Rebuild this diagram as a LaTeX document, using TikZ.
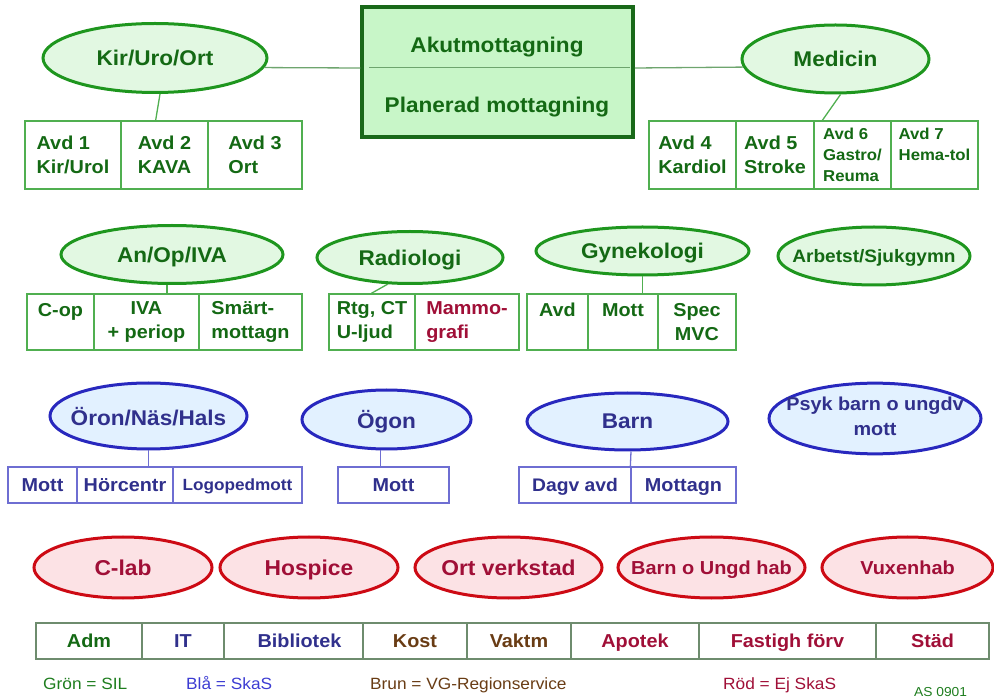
\documentclass[tikz,border=0pt]{standalone}
\usepackage{fontspec}
\setmainfont{Liberation Sans}[FakeStretch=1.06]
\usetikzlibrary{shapes.geometric}
\definecolor{gtxt}{RGB}{20,105,20}
\definecolor{gline}{RGB}{30,150,30}
\definecolor{gfill}{RGB}{226,248,226}
\definecolor{gbox}{RGB}{80,175,80}
\definecolor{akfill}{RGB}{200,246,200}
\definecolor{akborder}{RGB}{25,105,25}
\definecolor{akline}{RGB}{110,165,110}
\definecolor{btxt}{RGB}{48,48,140}
\definecolor{bline}{RGB}{40,40,190}
\definecolor{bfill}{RGB}{226,241,255}
\definecolor{bbox}{RGB}{110,110,210}
\definecolor{rtxt}{RGB}{160,15,55}
\definecolor{rline}{RGB}{205,10,20}
\definecolor{rfill}{RGB}{252,226,229}
\definecolor{brtxt}{RGB}{105,60,20}
\definecolor{barline}{RGB}{110,140,110}
\definecolor{legblue}{RGB}{60,60,210}
\definecolor{leggreen}{RGB}{30,125,30}
\newcommand{\inell}[1]{\makebox[0pt]{\raisebox{0pt}[\height][0pt]{#1}}}
\newcommand{\fs}[2]{\fontsize{#1}{#2}\selectfont}
\begin{document}
\begin{tikzpicture}
        [x=1pt, y=-1pt,
        every node/.style={inner sep=0pt},
        gell/.style={ellipse, draw=gline, line width=3pt, fill=gfill, text=gtxt, font=\bfseries\fs{21.3}{25}},
        bell/.style={ellipse, draw=bline, line width=3pt, fill=bfill, text=btxt, font=\bfseries\fs{21.3}{25}},
        rell/.style={ellipse, draw=rline, line width=3pt, fill=rfill, text=rtxt, font=\bfseries\fs{21.5}{25}},
        gcell/.style={rectangle, draw=gbox, line width=1.3pt, text=gtxt, align=left, font=\bfseries\fs{18.7}{24}},
        bcell/.style={rectangle, draw=bbox, line width=1.3pt, text=btxt, font=\bfseries\fs{18.7}{22}, minimum height=36, text depth=0pt},
        barcell/.style={rectangle, draw=barline, line width=1.3pt, font=\bfseries\fs{18.7}{22}, minimum height=36, text depth=0pt},
        gconn/.style={draw=gbox, line width=1.3pt},
        bconn/.style={draw=bbox, line width=1.3pt},
        legend/.style={anchor=base west, font=\fs{16.3}{20}},
        ]
        \useasboundingbox (0,0) rectangle (994,700);

        % centre box
        \node[rectangle, draw=akborder, line width=3.5pt, fill=akfill, minimum width=271, minimum height=130] (akut) at (497.5,72) {};
        \draw[draw=akline, line width=1pt] ([xshift=9,yshift=4]akut.west) -- ([xshift=-5,yshift=4]akut.east);
        \node[anchor=base, text=gtxt, font=\bfseries\fs{21.3}{25}] (akm) at (497,53) {Akutmottagning};
        \node[anchor=base, text=gtxt, font=\bfseries\fs{21.3}{25}] (plm) at (497,113) {Planerad mottagning};

        % top row
        \node[gell, minimum width=224, minimum height=69] (kir) at (155,58) {\inell{Kir/Uro/Ort}};
        \node[gell, minimum width=187, minimum height=68] (med) at (835.5,59) {\inell{Medicin}};
        \draw[draw=akline, line width=1.3pt] (kir.-5) -- ([yshift=4]akut.west);
        \draw[draw=akline, line width=1.3pt] ([yshift=4]akut.east) -- (med.185);

        \begin{scope}[every node/.append style={minimum height=68}]
        \node[gcell, minimum width=96] (avd1) at (73,155) {Avd 1\\Kir/Urol};
        \node[gcell, minimum width=87] (avd2) at (164.5,155) {Avd 2\\KAVA};
        \node[gcell, minimum width=94] (avd3) at (255,155) {Avd 3\\Ort};
        \node[gcell, minimum width=87] (avd4) at (692.5,155) {Avd 4\\Kardiol};
        \node[gcell, minimum width=78] (avd5) at (775,155) {Avd 5\\Stroke};
        \node[gcell, minimum width=77, font=\bfseries\fs{15.8}{21}] (avd6) at (852.5,155) {Avd 6\\Gastro/\\Reuma};
        \node[gcell, minimum width=87, font=\bfseries\fs{15.8}{21}] (avd7) at (934.5,155) {Avd 7\\Hema-tol\\\mbox{}};
        \end{scope}
        \draw[gconn] ([xshift=5]kir.south) -- ([xshift=34]avd1.north east);
        \draw[gconn] ([xshift=5]med.south) -- ([xshift=9]avd6.north west);

        % second row
        \node[gell, minimum width=222, minimum height=58] (anop) at (172,254.5) {\inell{An/Op/IVA}};
        \node[gell, minimum width=186, minimum height=52] (radio) at (410,257.5) {\inell{Radiologi}};
        \node[gell, minimum width=213, minimum height=48] (gyn) at (642.5,251) {\inell{Gynekologi}};
        \node[gell, minimum width=192, minimum height=58, font=\bfseries\fs{18}{22}] (arb) at (874,256) {\inell{Arbetst/Sjukgymn}};

        \begin{scope}[every node/.append style={minimum height=56, font=\bfseries\fs{18.7}{29}}]
        \node[gcell, minimum width=67] (cop) at (60.5,322) {C-op\\\mbox{}};
        \node[gcell, minimum width=105, align=center] (iva) at (146.5,322) {IVA\\+ periop};
        \node[gcell, minimum width=103] (smart) at (250.5,322) {Smärt-\\mottagn};
        \node[gcell, minimum width=86] (rtg) at (372,322) {Rtg, CT\\U-ljud};
        \node[gcell, minimum width=104, text=rtxt] (mammo) at (467,322) {Mammo-\\grafi};
        \node[gcell, minimum width=61] (gavd) at (557.5,322) {Avd\\\mbox{}};
        \node[gcell, minimum width=70] (gmott) at (623,322) {Mott\\\mbox{}};
        \node[gcell, minimum width=78, align=center] (spec) at (697,322) {Spec\\MVC};
        \end{scope}
        \draw[gconn] ([xshift=-5]anop.south) -- ([xshift=-5]anop.south |- iva.north);
        \draw[gconn] (radio.230) -- ([xshift=43]rtg.north west);
        \draw[gconn] (gyn.south) -- (gyn.south |- gmott.north);

        % third row
        \node[bell, minimum width=197, minimum height=66] (oron) at (148.5,416) {\inell{Öron/Näs/Hals}};
        \node[bell, minimum width=169, minimum height=59] (ogon) at (386.5,419.5) {\inell{Ögon}};
        \node[bell, minimum width=201, minimum height=57] (barn) at (627.5,421.5) {\inell{Barn}};
        \node[bell, minimum width=212, minimum height=63, font=\bfseries\fs{18.7}{25}] (psyk) at (875,418.5)
          {\makebox[0pt]{\begin{tabular}{@{}c@{}}Psyk barn o ungdv\\mott\end{tabular}}};

        \node[bcell, minimum width=69] (omott) at (42.5,485) {Mott};
        \node[bcell, minimum width=96] (horc) at (125,485) {Hörcentr};
        \node[bcell, minimum width=129, font=\bfseries\fs{16.2}{20}] (logo) at (237.5,485) {Logopedmott};
        \node[bcell, minimum width=111] (ogmott) at (393.5,485) {Mott};
        \node[bcell, minimum width=112, font=\bfseries\fs{18.2}{22}] (dagv) at (575,485) {Dagv avd};
        \node[bcell, minimum width=105] (mottagn) at (683.5,485) {Mottagn};
        \draw[bconn] (oron.south) -- (oron.south |- horc.north);
        \draw[bconn] ([xshift=-6]ogon.south) -- ([xshift=-6]ogon.south |- ogmott.north);
        \draw[bconn] ([xshift=3.5]barn.south) -- (mottagn.north west);

        % red row
        \node[rell, minimum width=178, minimum height=61] (clab) at (123,567.5) {\inell{C-lab}};
        \node[rell, minimum width=178, minimum height=61] (hosp) at (309,567.5) {\inell{Hospice}};
        \node[rell, minimum width=187, minimum height=61] (ortv) at (508.5,567.5) {\inell{Ort verkstad}};
        \node[rell, minimum width=187, minimum height=61, font=\bfseries\fs{18.8}{22}] (bouh) at (711.5,567.5) {\inell{Barn o Ungd hab}};
        \node[rell, minimum width=171, minimum height=61, font=\bfseries\fs{18.8}{22}] (vux) at (907.5,567.5) {\inell{Vuxenhab}};

        % service bar
        \node[barcell, minimum width=106, text=gtxt] (adm) at (89,641) {Adm};
        \node[barcell, minimum width=82, text=btxt] (it) at (183,641) {IT};
        \node[barcell, minimum width=139, text=btxt] (bibl) at (293.5,641) {\hspace{12pt}Bibliotek};
        \node[barcell, minimum width=104, text=brtxt] (kost) at (415,641) {Kost};
        \node[barcell, minimum width=104, text=brtxt] (vaktm) at (519,641) {Vaktm};
        \node[barcell, minimum width=128, text=rtxt] (apotek) at (635,641) {Apotek};
        \node[barcell, minimum width=177, text=rtxt] (fastigh) at (787.5,641) {Fastigh förv};
        \node[barcell, minimum width=113, text=rtxt] (stad) at (932.5,641) {Städ};

        % legend
        \node[legend, text=leggreen] (leggron) at (43,689) {Grön = SIL};
        \node[legend, text=legblue] (legbla) at (186,689) {Blå = SkaS};
        \node[legend, text=brtxt] (legbrun) at (370,689) {Brun = VG-Regionservice};
        \node[legend, text=rtxt] (legrod) at (723,689) {Röd = Ej SkaS};
        \node[anchor=base west, text=leggreen, font=\fs{13}{16}] (asnote) at (914,696) {AS 0901};
\end{tikzpicture}
\end{document}
